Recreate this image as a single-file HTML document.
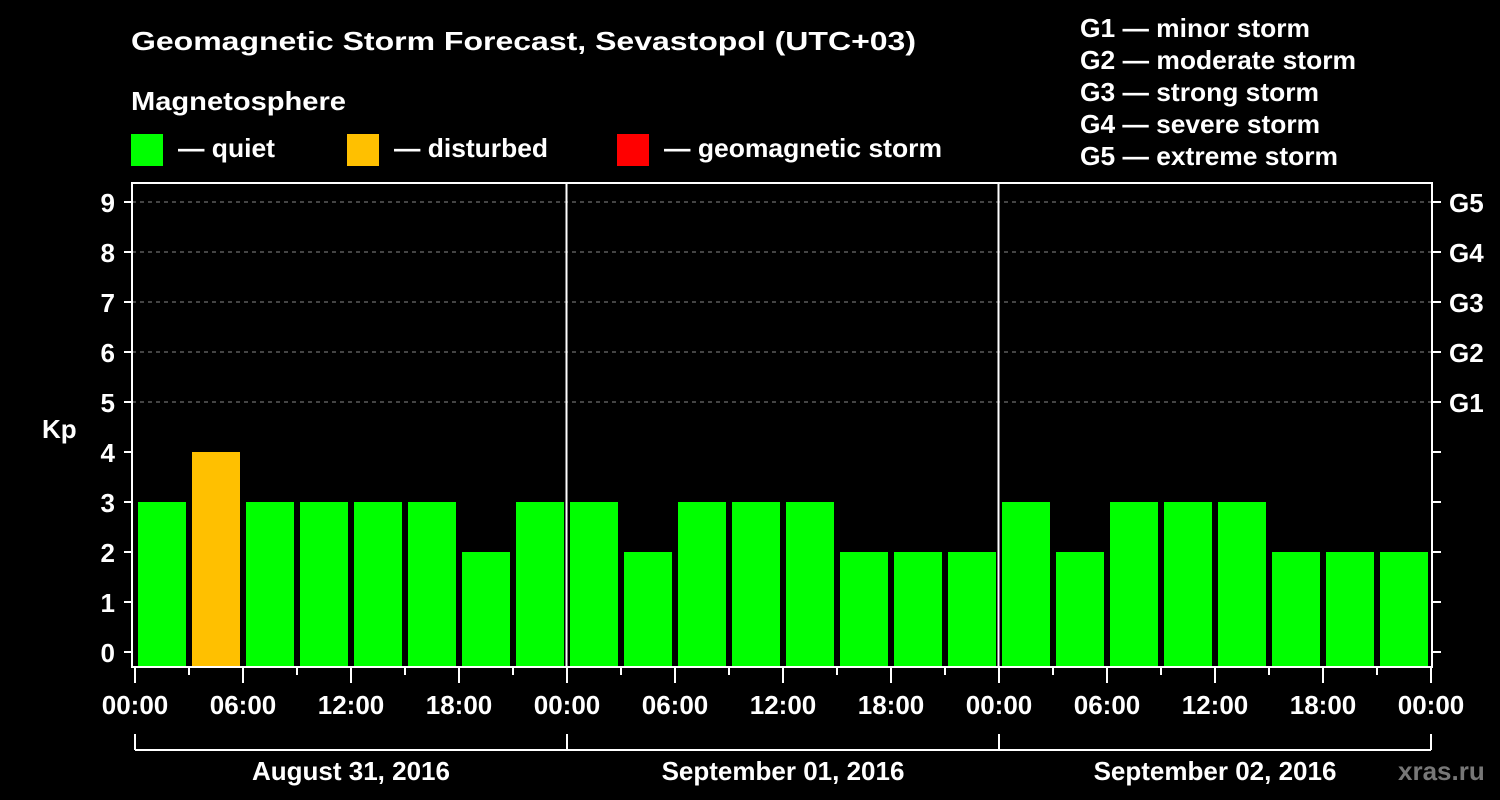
<!DOCTYPE html>
<html><head><meta charset="utf-8"><style>
html,body{margin:0;padding:0;background:#000;width:1500px;height:800px;overflow:hidden}
svg text{font-family:"Liberation Sans",Arial,sans-serif;font-weight:bold;fill:#fff}
</style></head><body>
<svg id="chart" width="1500" height="800" xmlns="http://www.w3.org/2000/svg">
<rect width="1500" height="800" fill="#000"/>
<text x="131" y="50" font-size="26" textLength="785" lengthAdjust="spacingAndGlyphs">Geomagnetic Storm Forecast, Sevastopol (UTC+03)</text>
<text x="131" y="110" font-size="26" textLength="215" lengthAdjust="spacingAndGlyphs">Magnetosphere</text>
<g><rect x="131" y="134" width="32" height="32" fill="#00ff00"/><text x="178" y="157" font-size="26" textLength="97" lengthAdjust="spacingAndGlyphs">— quiet</text></g>
<g><rect x="347" y="134" width="32" height="32" fill="#ffc000"/><text x="394" y="157" font-size="26" textLength="154" lengthAdjust="spacingAndGlyphs">— disturbed</text></g>
<g><rect x="617" y="134" width="32" height="32" fill="#ff0000"/><text x="664" y="157" font-size="26" textLength="278" lengthAdjust="spacingAndGlyphs">— geomagnetic storm</text></g>
<g font-size="26">
<text x="1080" y="37" textLength="230" lengthAdjust="spacingAndGlyphs">G1 — minor storm</text>
<text x="1080" y="69" textLength="276" lengthAdjust="spacingAndGlyphs">G2 — moderate storm</text>
<text x="1080" y="101" textLength="239" lengthAdjust="spacingAndGlyphs">G3 — strong storm</text>
<text x="1080" y="133" textLength="240" lengthAdjust="spacingAndGlyphs">G4 — severe storm</text>
<text x="1080" y="165" textLength="258" lengthAdjust="spacingAndGlyphs">G5 — extreme storm</text>
</g>
<g id="plot"></g>
<text x="42" y="438" font-size="26">Kp</text>
<text x="1398" y="780" font-size="26" style="fill:#777">xras.ru</text>
</svg>
<script>
const values=[3,4,3,3,3,3,2,3, 3,2,3,3,3,2,2,2, 3,2,3,3,3,2,2,2];
const yTicks=[0,1,2,3,4,5,6,7,8,9];
const gLabels=["G1","G2","G3","G4","G5"];
const gLevels=[5,6,7,8,9];
const timeLabels=["00:00","06:00","12:00","18:00","00:00","06:00","12:00","18:00","00:00","06:00","12:00","18:00","00:00"];
const dayLabels=["August 31, 2016","September 01, 2016","September 02, 2016"];
const NS="http://www.w3.org/2000/svg";
const x0=135,slot=54,yZero=652,unit=50,plotBottom=667,plotTop=183,plotRight=1432,plotLeft=132;
const X=i=>x0+i*slot, Y=v=>yZero-v*unit;
const g=document.getElementById('plot');
function mk(t,a,p){const e=document.createElementNS(NS,t);for(const k in a)e.setAttribute(k,a[k]);(p||g).appendChild(e);return e;}
gLevels.forEach((v,i)=>{
 const l=mk('line',{x1:plotLeft,x2:plotRight,y1:Y(v),y2:Y(v),stroke:'#888','stroke-dasharray':'4,4'});
 
 
 const t=mk('text',{x:1449,y:Y(v)+10,'font-size':26});t.textContent=gLabels[i];
 
 
});
values.forEach((v,i)=>{
 const c=v>=5?'#ff0000':(v>=4?'#ffc000':'#00ff00');
 const r=mk('rect',{x:X(i)+3,y:Y(v),width:48,height:plotBottom-Y(v),fill:c});
 
 
});
[1,2].forEach(d=>{const l=mk('line',{x1:X(d*8)-0.5,x2:X(d*8)-0.5,y1:plotTop,y2:plotBottom,stroke:'#fff','stroke-width':2});
 
 });
const f=mk('rect',{x:plotLeft,y:plotTop,width:plotRight-plotLeft,height:plotBottom-plotTop,fill:'none',stroke:'#fff','stroke-width':2});


yTicks.forEach(v=>{
 mk('line',{x1:124,x2:plotLeft,y1:Y(v),y2:Y(v),stroke:'#fff','stroke-width':2});
 mk('line',{x1:plotRight,x2:plotRight+9,y1:Y(v),y2:Y(v),stroke:'#fff','stroke-width':2});
 const t=mk('text',{x:115,y:Y(v)+10,'font-size':26,'text-anchor':'end'});t.textContent=v;
 
 
});
for(let i=0;i<=24;i++){
 const major=i%2===0;
 mk('line',{x1:X(i),x2:X(i),y1:plotBottom,y2:plotBottom+(major?16:8),stroke:'#fff','stroke-width':2});
 if(major){const t=mk('text',{x:X(i),y:714,'font-size':26,'text-anchor':'middle'});t.textContent=timeLabels[i/2];
  
  }
}
mk('line',{x1:X(0),x2:X(24),y1:750,y2:750,stroke:'#fff','stroke-width':2});
for(let d=0;d<=3;d++)mk('line',{x1:X(d*8),x2:X(d*8),y1:734,y2:750,stroke:'#fff','stroke-width':2});
dayLabels.forEach((s,d)=>{const t=mk('text',{x:X(d*8+4),y:780,'font-size':26,'text-anchor':'middle'});t.textContent=s;
 
 });
</script>
</body></html>
